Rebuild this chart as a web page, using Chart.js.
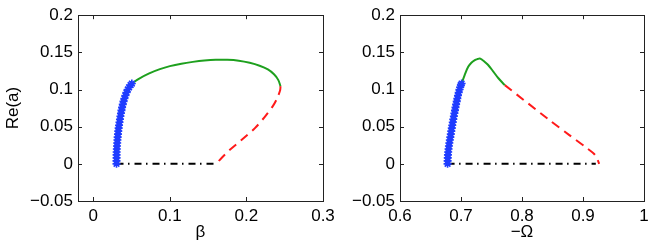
<!DOCTYPE html>
<html>
<head>
<meta charset="utf-8">
<script src="https://cdn.jsdelivr.net/npm/chart.js@4"></script>
<style>
  body { margin: 0; background: #fff; }
  #wrap { position: relative; width: 654px; height: 249px; }
  canvas { position: absolute; top: 0; }
  #leftPanel { left: 0; }
  #rightPanel { left: 330px; }
</style>
</head>
<body>
<div id="wrap">
  <canvas id="leftPanel" width="340" height="249"></canvas>
  <canvas id="rightPanel" width="324" height="249"></canvas>
</div>
<script>
// tick positions
const yTicks = [-0.05, 0, 0.05, 0.1, 0.15, 0.2];
const xTicksLeft = [0, 0.1, 0.2, 0.3];
const xTicksRight = [0.6, 0.7, 0.8, 0.9, 1];

// left panel: Re(a) vs beta
const blueReLeft = [0, 0.004, 0.008, 0.012, 0.016, 0.020, 0.024, 0.028, 0.032, 0.036, 0.040, 0.044, 0.048, 0.052, 0.056, 0.060, 0.064, 0.068, 0.072, 0.076, 0.080, 0.084, 0.088, 0.092, 0.096, 0.100, 0.103, 0.106, 0.108];
const blueBetaLeft = [0.0303, 0.0303, 0.0304, 0.0304, 0.0305, 0.0307, 0.0309, 0.0312, 0.0315, 0.0318, 0.0322, 0.0326, 0.0331, 0.0336, 0.0342, 0.0348, 0.0354, 0.0361, 0.0368, 0.0376, 0.0385, 0.0395, 0.0406, 0.0419, 0.0433, 0.0450, 0.0467, 0.0487, 0.0503];
const greenBetaLeft = [0.0503, 0.060, 0.073, 0.087, 0.100, 0.115, 0.130, 0.145, 0.160, 0.175, 0.190, 0.2043, 0.2172, 0.2280, 0.2360, 0.2415, 0.2445];
const greenReLeft = [0.108, 0.1148, 0.1218, 0.1275, 0.1315, 0.1348, 0.1372, 0.1390, 0.1400, 0.1400, 0.1388, 0.1360, 0.1320, 0.1270, 0.1205, 0.1130, 0.1046];
const redBetaLeft = [0.2445, 0.2440, 0.2400, 0.2347, 0.2240, 0.2108, 0.1935, 0.1780, 0.1650, 0.1625];
const redReLeft = [0.1046, 0.0990, 0.0880, 0.0780, 0.0633, 0.0477, 0.0320, 0.0185, 0.0050, 0];
const blackBetaLeft = [0.0303, 0.1625];
const blackReLeft = [0, 0];

// right panel: Re(a) vs -Omega
const blueReRight = [0, 0.004, 0.008, 0.012, 0.016, 0.020, 0.024, 0.028, 0.032, 0.036, 0.040, 0.044, 0.048, 0.052, 0.056, 0.060, 0.064, 0.068, 0.072, 0.076, 0.080, 0.084, 0.088, 0.092, 0.096, 0.100, 0.103, 0.106, 0.108];
const blueOmegaRight = [0.6780, 0.6781, 0.6783, 0.6786, 0.6790, 0.6796, 0.6802, 0.6809, 0.6817, 0.6825, 0.6833, 0.6841, 0.6849, 0.6857, 0.6865, 0.6874, 0.6883, 0.6892, 0.6901, 0.6910, 0.6920, 0.6930, 0.6940, 0.6950, 0.6962, 0.6975, 0.6986, 0.6998, 0.7010];
const greenOmegaRight = [0.7010, 0.7060, 0.7118, 0.7170, 0.7227, 0.7270, 0.7309, 0.7350, 0.7400, 0.7445, 0.7527, 0.7610, 0.7718];
const greenReRight = [0.108, 0.1195, 0.1305, 0.1360, 0.1395, 0.1410, 0.1418, 0.1398, 0.1365, 0.1330, 0.1245, 0.1155, 0.1059];
const redOmegaRight = [0.7718, 0.8450, 0.8776, 0.9050, 0.9180, 0.9230, 0.9265];
const redReRight = [0.1059, 0.0589, 0.0387, 0.0220, 0.0135, 0.0070, 0];
const blackOmegaRight = [0.678, 0.921];
const blackReRight = [0, 0];

const FONT = { family: "'Liberation Sans', Arial, Helvetica, sans-serif", size: 17 };

function toPoints(xs, ys) {
  return xs.map((x, i) => ({ x: x, y: ys[i] }));
}

function formatTick(v) {
  const s = String(Number(Math.abs(v).toFixed(3)));
  return v < 0 ? '\u2212' + s : s;
}

// frame with inward ticks on all four sides, like matlab axes
const boxTicks = {
  id: 'boxTicks',
  afterDraw(chart) {
    const ctx = chart.ctx;
    const area = chart.chartArea;
    const xs = chart.scales.x, ys = chart.scales.y;
    const len = 4;
    ctx.save();
    ctx.strokeStyle = '#222';
    ctx.lineWidth = 1;
    ctx.strokeRect(Math.round(area.left) + 0.5, Math.round(area.top) + 0.5,
      Math.round(area.right - area.left), Math.round(area.bottom - area.top));
    ctx.beginPath();
    xs.ticks.forEach(t => {
      const px = Math.round(xs.getPixelForValue(t.value)) + 0.5;
      ctx.moveTo(px, area.bottom); ctx.lineTo(px, area.bottom - len);
      ctx.moveTo(px, area.top); ctx.lineTo(px, area.top + len);
    });
    ys.ticks.forEach(t => {
      const py = Math.round(ys.getPixelForValue(t.value)) + 0.5;
      ctx.moveTo(area.left, py); ctx.lineTo(area.left + len, py);
      ctx.moveTo(area.right, py); ctx.lineTo(area.right - len, py);
    });
    ctx.stroke();
    ctx.restore();
  }
};

function makeDatasets(blue, green, red, black) {
  return [
    {
      data: blue, showLine: false, pointStyle: 'star', pointRadius: 4,
      pointBorderColor: '#1f3cff', pointBorderWidth: 1.6, pointBackgroundColor: '#1f3cff'
    },
    {
      data: green, showLine: true, borderColor: '#1ea01e', borderWidth: 2,
      pointRadius: 0, tension: 0.35
    },
    {
      data: red, showLine: true, borderColor: '#ff1a1a', borderWidth: 2,
      borderDash: [9, 6], pointRadius: 0, tension: 0.3
    },
    {
      data: black, showLine: true, borderColor: '#000', borderWidth: 2,
      borderDash: [7, 4.5, 1.5, 5], pointRadius: 0
    }
  ];
}

function makeChart(canvasId, opts) {
  return new Chart(document.getElementById(canvasId), {
    type: 'scatter',
    data: { datasets: opts.datasets },
    options: {
      responsive: false,
      animation: false,
      devicePixelRatio: 1,
      layout: { padding: { left: 0, right: opts.rightPad, top: 15, bottom: 0 } },
      plugins: { legend: { display: false }, tooltip: { enabled: false } },
      scales: {
        x: {
          type: 'linear', min: opts.xMin, max: opts.xMax,
          grid: { display: false, drawTicks: false },
          border: { display: false },
          ticks: { font: FONT, color: '#000', padding: 5, maxRotation: 0, callback: formatTick },
          afterBuildTicks: scale => { scale.ticks = opts.xTicks.map(v => ({ value: v })); },
          afterFit: scale => { scale.height = 48; },
          title: { display: true, text: opts.xTitle, font: FONT, color: '#000', padding: { top: 0, bottom: 6 } }
        },
        y: {
          type: 'linear', min: -0.05, max: 0.2,
          grid: { display: false, drawTicks: false },
          border: { display: false },
          ticks: { font: FONT, color: '#000', padding: 5, callback: formatTick },
          afterBuildTicks: scale => { scale.ticks = yTicks.map(v => ({ value: v })); },
          afterFit: scale => { scale.width = opts.yWidth; },
          title: { display: opts.yTitle !== '', text: opts.yTitle, font: FONT, color: '#000', padding: { top: 3, bottom: 0 } }
        }
      }
    },
    plugins: [boxTicks]
  });
}

const leftChart = makeChart('leftPanel', {
  datasets: makeDatasets(
    toPoints(blueBetaLeft, blueReLeft),
    toPoints(greenBetaLeft, greenReLeft),
    toPoints(redBetaLeft, redReLeft),
    toPoints(blackBetaLeft, blackReLeft)
  ),
  xMin: -0.02, xMax: 0.3, xTicks: xTicksLeft,
  xTitle: '\u03b2', yTitle: 'Re(a)',
  yWidth: 78, rightPad: 17
});

const rightChart = makeChart('rightPanel', {
  datasets: makeDatasets(
    toPoints(blueOmegaRight, blueReRight),
    toPoints(greenOmegaRight, greenReRight),
    toPoints(redOmegaRight, redReRight),
    toPoints(blackOmegaRight, blackReRight)
  ),
  xMin: 0.6, xMax: 1, xTicks: xTicksRight,
  xTitle: '\u2212\u03a9', yTitle: '',
  yWidth: 70, rightPad: 10
});
</script>
</body>
</html>
